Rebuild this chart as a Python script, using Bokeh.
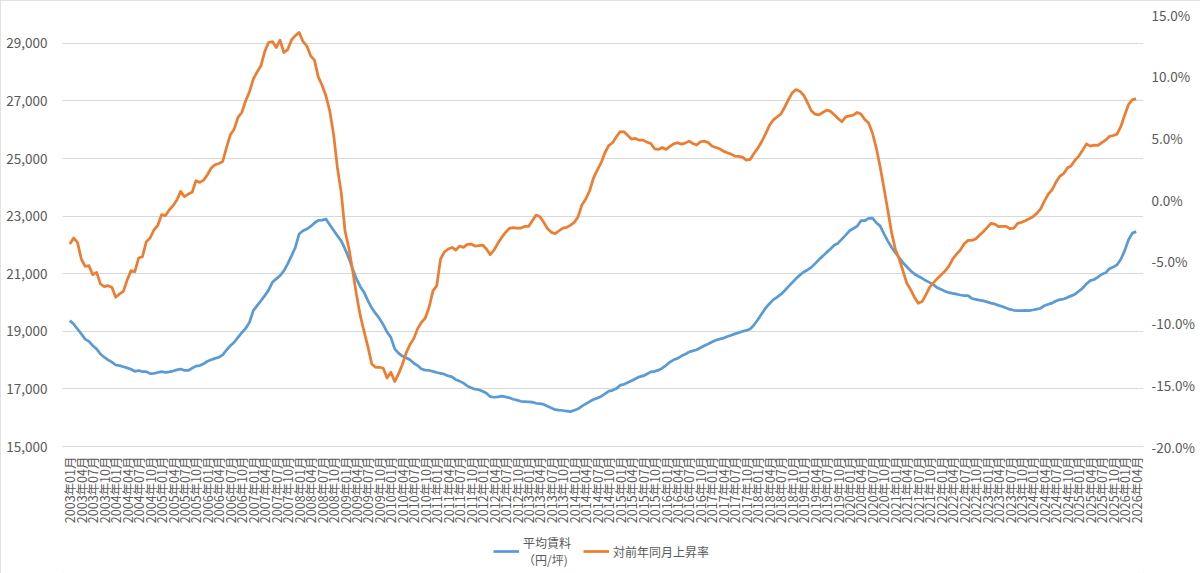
import math
from bokeh.plotting import figure
from bokeh.models import (Range1d, LinearAxis, FixedTicker, NumeralTickFormatter,
                          PrintfTickFormatter, Legend, LegendItem)
from bokeh.embed import file_html
from bokeh.resources import INLINE

FONT = "Noto Sans CJK JP"
TEXT = "#595959"
GRID = "#d9d9d9"

# month labels 2003年01月 ... 2026年04月
month_labels = [f"{y}年{m:02d}月" for y in range(2003, 2027) for m in range(1, 13)][:280]

# 平均賃料 (円/坪)
rent = [
    19370, 19250, 19080, 18910, 18730, 18650, 18500, 18390, 18210, 18100,
    18010, 17930, 17830, 17810, 17770, 17730, 17680, 17610, 17640, 17600,
    17600, 17530, 17540, 17570, 17600, 17570, 17590, 17620, 17660, 17690,
    17640, 17640, 17720, 17790, 17810, 17870, 17960, 18010, 18060, 18100,
    18180, 18350, 18500, 18620, 18790, 18950, 19100, 19310, 19720, 19890,
    20060, 20240, 20430, 20700, 20820, 20930, 21100, 21340, 21620, 21910,
    22380, 22490, 22550, 22640, 22760, 22850, 22860, 22900, 22700, 22510,
    22320, 22140, 21860, 21540, 21160, 20820, 20550, 20350, 20060, 19810,
    19620, 19450, 19230, 18970, 18790, 18390, 18240, 18140, 18080, 18010,
    17890, 17810, 17690, 17650, 17640, 17610, 17570, 17540, 17510, 17450,
    17420, 17320, 17270, 17200, 17100, 17040, 16990, 16970, 16920, 16850,
    16730, 16710, 16720, 16750, 16720, 16690, 16640, 16610, 16570, 16560,
    16550, 16540, 16500, 16490, 16460, 16400, 16340, 16280, 16260, 16250,
    16230, 16210, 16260, 16310, 16400, 16480, 16560, 16630, 16680, 16740,
    16830, 16920, 16950, 17010, 17130, 17160, 17220, 17280, 17350, 17420,
    17450, 17520, 17590, 17610, 17650, 17720, 17820, 17930, 18010, 18060,
    18140, 18200, 18280, 18320, 18360, 18430, 18500, 18560, 18630, 18690,
    18730, 18760, 18820, 18860, 18910, 18950, 19000, 19030, 19080, 19220,
    19400, 19600, 19800, 19950, 20090, 20180, 20280, 20410, 20550, 20690,
    20830, 20950, 21060, 21130, 21220, 21350, 21490, 21610, 21740, 21860,
    21990, 22060, 22200, 22340, 22490, 22570, 22650, 22840, 22840, 22920,
    22930, 22770, 22660, 22390, 22140, 21920, 21730, 21560, 21380, 21240,
    21100, 20990, 20910, 20840, 20760, 20690, 20610, 20510, 20450, 20390,
    20340, 20320, 20290, 20260, 20240, 20240, 20140, 20110, 20080, 20060,
    20020, 19980, 19950, 19900, 19860, 19810, 19760, 19730, 19720, 19720,
    19730, 19720, 19740, 19770, 19800, 19890, 19940, 19980, 20050, 20100,
    20120, 20170, 20230, 20290, 20390, 20500, 20650, 20760, 20800, 20880,
    20980, 21030, 21170, 21230, 21310, 21500, 21800, 22180, 22410, 22460,
]

# 対前年同月上昇率 (%)
yoy = [
    -3.60, -3.11, -3.46, -4.81, -5.40, -5.35, -6.08, -5.89, -6.83, -7.05,
    -6.97, -7.10, -7.91, -7.64, -7.43, -6.51, -5.75, -5.84, -4.73, -4.62,
    -3.41, -3.11, -2.46, -2.09, -1.22, -1.30, -0.84, -0.49, -0.03, 0.67,
    0.24, 0.45, 0.59, 1.53, 1.40, 1.58, 2.02, 2.56, 2.83, 2.93,
    3.09, 4.23, 5.25, 5.71, 6.66, 7.06, 8.01, 8.73, 9.76, 10.35,
    10.84, 12.00, 12.73, 12.81, 12.32, 12.92, 11.92, 12.16, 12.94, 13.29,
    13.54, 12.81, 12.46, 11.65, 11.30, 9.95, 9.27, 8.41, 7.20, 5.31,
    2.61, 0.59, -2.52, -3.92, -5.75, -7.70, -9.40, -10.69, -11.93, -13.31,
    -13.58, -13.58, -13.66, -14.44, -13.98, -14.74, -14.12, -13.36, -12.42, -11.74,
    -11.26, -10.45, -9.94, -9.59, -8.72, -7.40, -6.97, -4.81, -4.24, -4.00,
    -3.87, -4.08, -3.76, -3.87, -3.62, -3.60, -3.76, -3.73, -3.68, -4.00,
    -4.46, -4.08, -3.54, -3.06, -2.65, -2.33, -2.27, -2.30, -2.30, -2.17,
    -2.17, -1.71, -1.25, -1.38, -1.84, -2.36, -2.65, -2.76, -2.52, -2.30,
    -2.25, -2.06, -1.84, -1.38, -0.41, 0.05, 0.72, 1.75, 2.39, 2.98,
    3.80, 4.38, 4.61, 5.09, 5.52, 5.50, 5.20, 4.90, 4.96, 4.82,
    4.82, 4.66, 4.55, 4.12, 4.07, 4.23, 4.07, 4.31, 4.52, 4.61,
    4.50, 4.58, 4.74, 4.55, 4.42, 4.69, 4.74, 4.63, 4.34, 4.23,
    4.12, 3.93, 3.80, 3.69, 3.53, 3.50, 3.45, 3.20, 3.26, 3.74,
    4.17, 4.69, 5.31, 5.98, 6.44, 6.68, 6.93, 7.47, 8.09, 8.65,
    8.92, 8.79, 8.46, 7.87, 7.20, 6.93, 6.87, 7.06, 7.25, 7.17,
    6.87, 6.58, 6.31, 6.71, 6.79, 6.85, 7.06, 6.93, 6.49, 6.20,
    5.40, 4.20, 2.69, 0.96, -0.84, -2.65, -4.03, -4.81, -5.78, -6.78,
    -7.29, -7.91, -8.40, -8.26, -7.70, -7.08, -6.73, -6.38, -6.08, -5.78,
    -5.38, -4.81, -4.41, -4.08, -3.57, -3.30, -3.30, -3.19, -2.89, -2.60,
    -2.27, -1.92, -1.98, -2.19, -2.17, -2.17, -2.36, -2.30, -1.92, -1.84,
    -1.71, -1.55, -1.38, -1.11, -0.74, -0.12, 0.45, 0.80, 1.40, 1.88,
    2.10, 2.56, 2.74, 3.20, 3.53, 4.01, 4.52, 4.34, 4.42, 4.39,
    4.61, 4.82, 5.12, 5.20, 5.31, 5.93, 6.85, 7.71, 8.11, 8.17,
]

left_ticks = [15000, 17000, 19000, 21000, 23000, 25000, 27000, 29000]
right_ticks = [-20, -15, -10, -5, 0, 5, 10, 15]

x = list(range(len(rent)))

# plot frame reaches the bottom of the picture; the category axis sits at 15,000
PLOT_H = 432          # height between top and the 15,000 / -20% line
BOTTOM_H = 127        # space for month labels and legend under that line
LEFT_MIN, LEFT_MAX = 15000, 30000
RIGHT_MIN, RIGHT_MAX = -20, 15
left_lo = LEFT_MIN - (LEFT_MAX - LEFT_MIN) * BOTTOM_H / PLOT_H
right_lo = RIGHT_MIN - (RIGHT_MAX - RIGHT_MIN) * BOTTOM_H / PLOT_H

FRAME_W = 1081
X_PAD = 1.92          # months of room either side so end labels are not clipped

p = figure(frame_width=FRAME_W, frame_height=PLOT_H + BOTTOM_H, output_backend="svg",
           toolbar_location=None,
           x_range=Range1d(-X_PAD, len(rent) - 1 + X_PAD),
           y_range=Range1d(left_lo, LEFT_MAX),
           min_border_left=62, min_border_right=57, min_border_top=14,
           min_border_bottom=0)
p.outline_line_color = None
p.background_fill_color = "white"
p.border_fill_color = "white"
p.styles = {"outline": "1px solid #d9d9d9", "outline-offset": "-1px"}

p.extra_y_ranges = {"pct": Range1d(right_lo, RIGHT_MAX)}

# grid
p.xgrid.visible = False
p.ygrid.grid_line_color = GRID
p.ygrid.grid_line_width = 1

# x axis (fixed at 15,000)
xa = p.xaxis[0]
xa.fixed_location = LEFT_MIN
xa.ticker = FixedTicker(ticks=list(range(0, len(rent), 3)))
xa.major_label_overrides = {i: month_labels[i] for i in range(0, len(rent), 3)}
xa.major_label_orientation = math.pi / 2
xa.major_tick_line_color = None
xa.minor_tick_line_color = None
xa.major_tick_out = 0
xa.major_tick_in = 0
xa.minor_tick_out = 0
xa.minor_tick_in = 0
xa.axis_line_color = GRID
xa.major_label_standoff = 10
xa.major_label_text_font = FONT
xa.major_label_text_font_size = "12.5px"
xa.major_label_text_color = TEXT

# left axis
ya = p.yaxis[0]
ya.ticker = FixedTicker(ticks=left_ticks)
ya.formatter = NumeralTickFormatter(format="0,0")
ya.major_tick_line_color = None
ya.minor_tick_line_color = None
ya.axis_line_color = None
ya.major_label_standoff = 9
ya.major_label_text_font = FONT
ya.major_label_text_font_size = "13.5px"
ya.major_label_text_color = TEXT

# right axis
ra = LinearAxis(y_range_name="pct", ticker=FixedTicker(ticks=right_ticks),
                formatter=PrintfTickFormatter(format="%.1f%%"))
ra.major_tick_line_color = None
ra.minor_tick_line_color = None
ra.axis_line_color = None
ra.major_label_standoff = 2
ra.major_label_text_font = FONT
ra.major_label_text_font_size = "13.5px"
ra.major_label_text_color = TEXT
p.add_layout(ra, "right")

r1 = p.line(x, rent, line_color="#5B9BD5", line_width=2.75, line_join="round")
r2 = p.line(x, yoy, y_range_name="pct", line_color="#ED7D31", line_width=2.75,
            line_join="round")

legend = Legend(items=[LegendItem(label="平均賃料\n（円/坪)", renderers=[r1]),
                       LegendItem(label="対前年同月上昇率", renderers=[r2])],
                orientation="horizontal", location=(431, 5),
                border_line_color=None, background_fill_alpha=0,
                label_text_font=FONT, label_text_font_size="12px",
                label_text_color=TEXT, glyph_width=26, glyph_height=14,
                label_height=14, spacing=12, padding=0, margin=0,
                label_standoff=4)
p.add_layout(legend)

open("out.html", "w").write(file_html(p, INLINE))
